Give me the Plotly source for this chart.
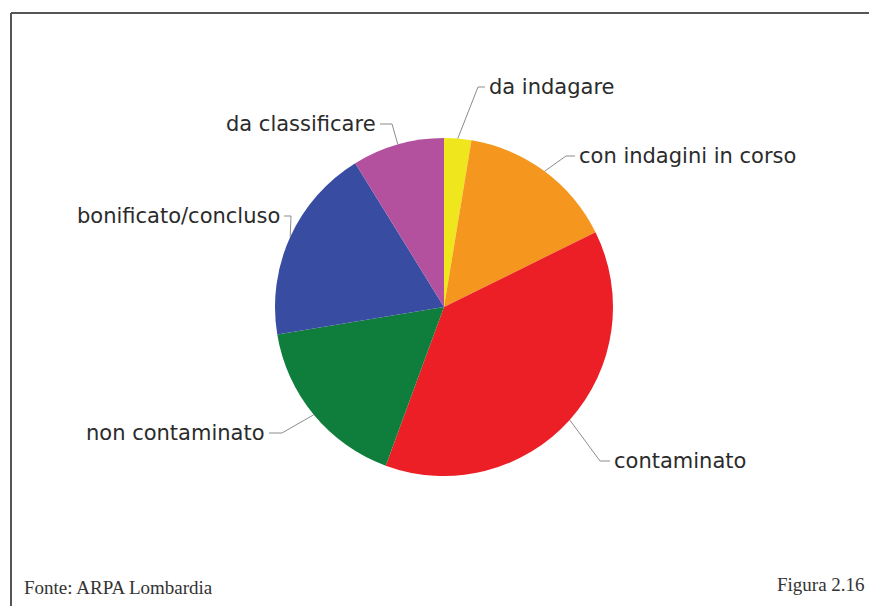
import math
import plotly.graph_objects as go

# Stato dei siti (quote percentuali), in senso orario dalle ore 12
categories = [
    "da indagare",
    "con indagini in corso",
    "contaminato",
    "non contaminato",
    "bonificato/concluso",
    "da classificare",
]
shares = [2.6, 15.1, 37.9, 16.8, 18.8, 8.8]
colors = ["#f0e61e", "#f5961e", "#ec1f26", "#0f7d3c", "#384ca2", "#b4519f"]

source_text = "Fonte: ARPA Lombardia"
figure_text = "Figura 2.16"

W, H = 869, 606
CX, CY, R = 444, 307, 169  # pie centre and radius, pixels


def px(x):
    return x / W


def py(y):
    return 1 - y / H


# label placement: text anchor point, side, elbow point, end of horizontal tick
label_layout = [
    dict(tx=487, ty=87, side="left", ex=478, ey=87, hx=485),
    dict(tx=577, ty=156, side="left", ex=566, ey=156, hx=575),
    dict(tx=612, ty=461, side="left", ex=600, ey=461, hx=610),
    dict(tx=267, ty=433, side="right", ex=282, ey=433, hx=269),
    dict(tx=282, ty=216, side="right", ex=291, ey=216, hx=284),
    dict(tx=378, ty=124, side="right", ex=392, ey=124, hx=380),
]

fig = go.Figure(
    go.Pie(
        labels=categories,
        values=shares,
        marker=dict(colors=colors, line=dict(width=0)),
        sort=False,
        direction="clockwise",
        rotation=0,
        textinfo="none",
        hoverinfo="label+percent",
        showlegend=False,
        domain=dict(x=[px(CX - R), px(CX + R)], y=[py(CY + R), py(CY - R)]),
    )
)

shapes = []
annotations = []
total = sum(shares)
cum = 0.0
for name, val, lay in zip(categories, shares, label_layout):
    mid = (cum + val / 2) / total * 2 * math.pi
    cum += val
    sx = CX + R * math.sin(mid)
    sy = CY - R * math.cos(mid)
    path = "M {} {} L {} {} L {} {}".format(
        px(sx), py(sy), px(lay["ex"]), py(lay["ey"]), px(lay["hx"]), py(lay["ey"])
    )
    shapes.append(
        dict(type="path", xref="paper", yref="paper", path=path,
             line=dict(color="#8c8c8c", width=1))
    )
    annotations.append(
        dict(x=px(lay["tx"]), y=py(lay["ty"]), xref="paper", yref="paper",
             text=name, showarrow=False,
             xanchor="left" if lay["side"] == "left" else "right", yanchor="middle",
             font=dict(family="DejaVu Sans", size=21, color="#2b2b2b"))
    )

# frame lines (top and left)
shapes.append(dict(type="line", xref="paper", yref="paper",
                   x0=px(11), y0=py(13), x1=1.0, y1=py(13),
                   line=dict(color="#555555", width=2)))
shapes.append(dict(type="line", xref="paper", yref="paper",
                   x0=px(11), y0=py(13), x1=px(11), y1=0.0,
                   line=dict(color="#555555", width=2)))

annotations.append(dict(x=px(22), y=py(587), xref="paper", yref="paper",
                        text=source_text, showarrow=False,
                        xanchor="left", yanchor="middle",
                        font=dict(family="Liberation Serif", size=19, color="#333333")))
annotations.append(dict(x=px(867), y=py(584), xref="paper", yref="paper",
                        text=figure_text, showarrow=False,
                        xanchor="right", yanchor="middle",
                        font=dict(family="Liberation Serif", size=19, color="#333333")))

fig.update_layout(
    width=W,
    height=H,
    margin=dict(l=0, r=0, t=0, b=0),
    paper_bgcolor="white",
    plot_bgcolor="white",
    shapes=shapes,
    annotations=annotations,
)

fig.write_html("out.html")
